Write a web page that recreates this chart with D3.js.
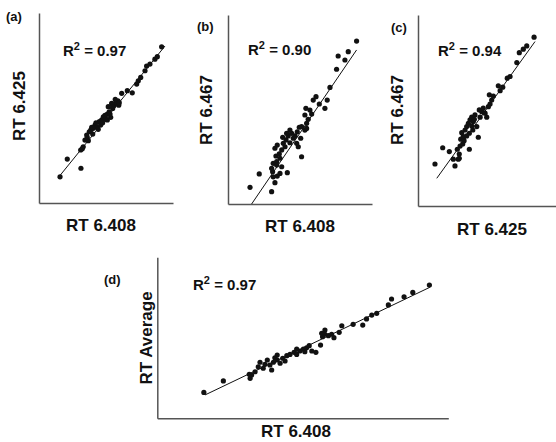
<!DOCTYPE html>
<html>
<head>
<meta charset="utf-8">
<script src="https://cdn.jsdelivr.net/npm/d3@7"></script>
<style>
  html, body { margin: 0; padding: 0; background: #fff; }
  svg { display: block; }
  text { font-family: "Liberation Sans", Arial, sans-serif; font-weight: bold; fill: #111; }
</style>
</head>
<body>
<svg id="chart" width="556" height="442"></svg>
<script>
// Retention-time comparisons between runs (relative units, 0-100 on each axis)

// (a) RT 6.408 vs RT 6.425
const aX = [15.7,21.1,31.3,31.1,33.0,34.3,35.6,37.5,39.3,40.1,41.8,43.5,45.0,46.8,48.0,50.0,51.0,52.4,53.5,55.0,56.0,57.4,58.9,54.2,51.7,61.7,65.9,69.6,72.9,74.1,75.9,79.1,80.3,82.8,86.5,88.3,91.5,36.0,38.6,42.5,46.0,47.5,49.2,51.0,44.2,40.5,36.8,32.3,59.5,56.9,53.0,59.9,55.0];
const aY = [13.8,23.1,18.3,27.9,29.6,33.1,35.8,37.5,39.8,36.3,41.0,39.8,42.8,43.7,45.4,44.0,46.8,48.0,45.1,49.8,51.5,52.8,53.8,52.4,50.7,57.7,59.1,58.0,62.6,64.3,66.1,69.6,72.1,73.1,75.7,77.0,82.2,34.6,38.4,42.2,41.0,42.2,46.1,43.7,38.8,39.3,32.8,28.6,51.5,54.5,46.8,52.8,50.7];
const aFit = [[14.2,13.2],[94.0,82.6]];

// (b) RT 6.408 vs RT 6.467
const bX = [15.3,21.7,30.3,32.6,34.2,31.0,30.3,31.4,33.8,36.1,41.2,37.3,33.3,35.6,32.6,34.2,37.3,38.4,40.3,38.0,41.8,43.0,44.2,45.3,46.5,48.1,49.5,47.7,51.1,50.5,53.4,54.6,55.7,53.4,54.1,56.9,58.1,59.2,61.1,63.4,67.3,68.9,70.8,75.4,76.5,81.2,83.5,89.3,48.8,39.6,36.1,43.0,40.7,51.1,54.6,33.8,31.4];
const bY = [8.8,15.9,6.5,11.3,14.8,17.1,18.9,21.5,22.4,16.2,16.6,19.7,25.4,26.5,29.5,31.2,28.6,32.1,33.9,35.3,36.0,32.4,37.4,34.8,36.0,38.2,40.6,32.1,25.0,34.8,39.1,42.7,44.8,47.1,50.6,49.7,47.6,55.0,56.8,52.9,50.6,55.0,61.7,71.3,78.3,76.2,80.6,86.2,30.3,30.3,24.2,39.1,37.4,40.9,40.0,20.6,14.4];
const bFit = [[16.4,0.0],[89.3,81.5]];

// (c) RT 6.425 vs RT 6.467
const cX = [12.3,17.9,22.7,26.8,29.2,29.9,28.5,30.5,32.4,37.2,31.0,32.8,31.7,34.1,35.3,36.5,37.7,38.9,40.1,41.3,43.7,42.6,39.7,37.2,45.0,46.2,48.6,49.8,51.0,52.2,53.4,51.7,54.6,58.2,59.5,61.4,64.7,66.7,71.6,73.4,76.3,78.8,84.1,33.4,35.3,38.9,40.8,44.4,47.3,29.9,25.6];
const cY = [22.0,30.5,28.5,21.0,24.5,27.2,29.7,31.4,32.5,29.7,35.0,36.3,38.4,39.8,41.6,43.3,45.1,46.5,44.2,47.7,36.0,41.6,39.8,38.1,46.5,49.4,48.6,46.5,52.0,53.4,55.5,58.2,57.6,62.9,60.4,62.2,66.9,67.8,75.1,80.3,82.1,83.8,88.4,34.2,36.7,41.9,45.4,50.3,51.2,25.0,24.5];
const cFit = [[13.6,14.5],[84.8,86.1]];

// (d) RT 6.408 vs RT average
const dX = [16.0,22.7,31.6,31.9,33.6,34.7,35.3,37.0,37.8,39.3,39.9,41.2,41.2,42.2,43.1,44.5,45.6,47.0,47.9,49.0,50.2,51.3,52.2,53.1,54.5,56.1,56.8,57.6,58.8,59.9,60.7,62.5,63.4,67.3,70.6,71.9,73.7,75.4,79.4,80.5,84.8,87.8,93.5,38.7,43.9,47.9,50.7,56.5,57.6,36.4,32.4,40.4];
const dY = [16.1,23.2,27.3,24.8,28.9,32.0,34.8,33.5,36.2,30.0,34.8,39.3,36.2,34.2,37.3,38.9,39.7,41.0,39.7,41.8,43.0,43.8,45.1,41.8,41.0,45.5,50.7,52.2,51.3,52.2,50.1,53.4,57.5,58.4,57.9,61.7,64.1,65.2,70.4,74.1,75.5,78.2,82.8,33.1,35.6,43.0,41.4,52.8,54.8,31.1,26.9,37.6];
const dFit = [[16.4,14.5],[93.7,81.4]];

const panelTags = ["(a)", "(b)", "(c)", "(d)"];
const r2Values = ["0.97", "0.90", "0.94", "0.97"];
const xTitles = ["RT 6.408", "RT 6.408", "RT 6.425", "RT 6.408"];
const yTitles = ["RT 6.425", "RT 6.467", "RT 6.467", "RT Average"];

// Panel frames and text anchors
const layout = [
  { x0: 39,    x1: 173,   y0: 203,   y1: 13,    tag: [6, 21],    r2: [63, 56],   xl: [101, 231], yl: [19, 106] },
  { x0: 228,   x1: 372,   y0: 204,   y1: 15,    tag: [197, 31],  r2: [248, 55],  xl: [300, 232], yl: [206, 110] },
  { x0: 418,   x1: 556,   y0: 206,   y1: 15,    tag: [391, 32],  r2: [438, 56],  xl: [492, 235], yl: [397, 110] },
  { x0: 157.3, x1: 448.3, y0: 418.3, y1: 257.3, tag: [104, 284], r2: [193, 290], xl: [296, 437], yl: [146, 338] }
];

const series = [
  { xs: aX, ys: aY, fit: aFit },
  { xs: bX, ys: bY, fit: bFit },
  { xs: cX, ys: cY, fit: cFit },
  { xs: dX, ys: dY, fit: dFit }
];

const svg = d3.select("#chart");

series.forEach((s, i) => {
  const L = layout[i];
  const x = d3.scaleLinear().domain([0, 100]).range([L.x0, L.x1]);
  const y = d3.scaleLinear().domain([0, 100]).range([L.y0, L.y1]);
  const g = svg.append("g");

  // axes without ticks
  const xa = g.append("g").attr("transform", `translate(0,${L.y0})`)
    .call(d3.axisBottom(x).tickValues([]).tickSizeOuter(0));
  const ya = g.append("g").attr("transform", `translate(${L.x0},0)`)
    .call(d3.axisLeft(y).tickValues([]).tickSizeOuter(0));
  [xa, ya].forEach(a => a.select(".domain").attr("stroke", "#555").attr("stroke-width", 1.5));

  // regression line
  g.append("path")
    .datum(s.fit)
    .attr("d", d3.line().x(d => x(d[0])).y(d => y(d[1])))
    .attr("stroke", "#111").attr("stroke-width", 1).attr("fill", "none");

  // points
  g.selectAll("circle.pt")
    .data(s.xs.map((v, k) => [v, s.ys[k]]))
    .join("circle")
    .attr("class", "pt")
    .attr("cx", d => x(d[0]))
    .attr("cy", d => y(d[1]))
    .attr("r", 2.6)
    .attr("fill", "#111");

  // panel tag
  g.append("text").attr("x", L.tag[0]).attr("y", L.tag[1])
    .attr("font-size", 13).text(panelTags[i]);

  // R squared
  const t = g.append("text").attr("x", L.r2[0]).attr("y", L.r2[1]).attr("font-size", 15);
  t.append("tspan").text("R");
  t.append("tspan").attr("font-size", 11).attr("dy", -6).text("2");
  t.append("tspan").attr("dy", 6).text(" = " + r2Values[i]);

  // axis titles
  g.append("text").attr("x", L.xl[0]).attr("y", L.xl[1])
    .attr("text-anchor", "middle").attr("font-size", 17).text(xTitles[i]);
  g.append("text")
    .attr("transform", `translate(${L.yl[0]},${L.yl[1]}) rotate(-90)`)
    .attr("text-anchor", "middle").attr("dy", "0.35em")
    .attr("font-size", 17).text(yTitles[i]);
});
</script>
</body>
</html>
